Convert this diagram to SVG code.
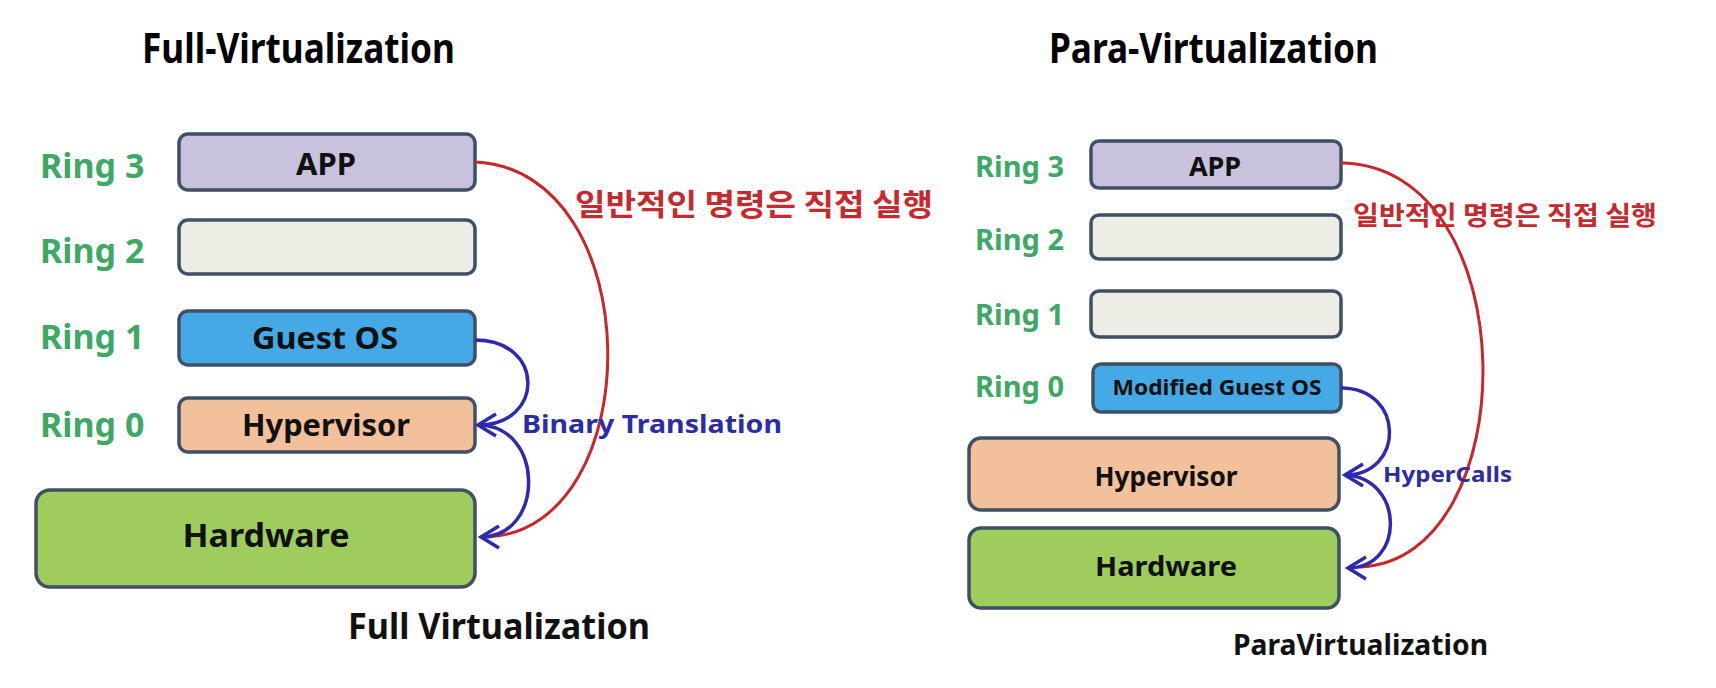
<svg xmlns="http://www.w3.org/2000/svg" width="1716" height="688" viewBox="0 0 1716 688">
<defs>
<style>
.title{font-family:"Noto Sans","Noto Sans CJK KR",sans-serif;font-weight:bold;font-size:42px;fill:#000}
.ring{font-family:"Noto Sans","Noto Sans CJK KR",sans-serif;font-weight:bold;fill:#3ea865}
.lbl{font-family:"Noto Sans","Noto Sans CJK KR",sans-serif;font-weight:bold;fill:#111;text-anchor:middle}
.box{stroke:#3f5066;stroke-width:3.5}
.kr{font-family:"Noto Sans CJK KR",sans-serif;font-weight:bold;fill:#c42a2e}
.bt{font-family:"Noto Sans","Noto Sans CJK KR",sans-serif;font-weight:bold;fill:#2d2ca3}
.cap{font-family:"Noto Sans","Noto Sans CJK KR",sans-serif;font-weight:bold;fill:#111}
.red{fill:none;stroke:#c8262b;stroke-width:3}
.blue{fill:none;stroke:#2e2ab0;stroke-width:3.5}
</style>
<marker id="chev" viewBox="0 0 24 26" refX="21" refY="13" markerWidth="24" markerHeight="26" markerUnits="userSpaceOnUse" orient="auto">
<path d="M3,2 L21,13 L3,24" fill="none" stroke="#2e2ab0" stroke-width="3.5" stroke-linejoin="miter"/>
</marker>
</defs>
<rect width="1716" height="688" fill="#fff"/>

<text class="title" x="142" y="63" textLength="313" lengthAdjust="spacingAndGlyphs">Full-Virtualization</text>
<text class="title" x="1049" y="63" textLength="329" lengthAdjust="spacingAndGlyphs">Para-Virtualization</text>

<g id="left-ring-labels" font-size="34">
<text class="ring" x="40" y="178">Ring 3</text>
<text class="ring" x="40" y="263">Ring 2</text>
<text class="ring" x="40" y="349">Ring 1</text>
<text class="ring" x="40" y="437">Ring 0</text>
</g>

<g id="fv-app"><rect class="box" x="179" y="134" width="296" height="56" rx="9" fill="#c9c2dd"/><text class="lbl" x="326" y="175" font-size="31">APP</text></g>
<g id="fv-ring2"><rect class="box" x="179" y="220" width="296" height="54" rx="9" fill="#eeede5"/></g>
<g id="fv-guestos"><rect class="box" x="179" y="311" width="296" height="54" rx="9" fill="#45a9e6"/><text class="lbl" x="325" y="349" font-size="31" textLength="146" lengthAdjust="spacingAndGlyphs">Guest OS</text></g>
<g id="fv-hypervisor"><rect class="box" x="179" y="398" width="296" height="54" rx="9" fill="#f2c09b"/><text class="lbl" x="326" y="436" font-size="31" textLength="168" lengthAdjust="spacingAndGlyphs">Hypervisor</text></g>
<g id="fv-hardware"><rect class="box" x="36" y="490" width="439" height="97" rx="14" fill="#9ecd5e"/><text class="lbl" x="266" y="547" font-size="33" textLength="167" lengthAdjust="spacingAndGlyphs">Hardware</text></g>
<text class="cap" x="348" y="639" font-size="35" textLength="302" lengthAdjust="spacingAndGlyphs">Full Virtualization</text>

<g id="right-ring-labels" font-size="29">
<text class="ring" x="975" y="177">Ring 3</text>
<text class="ring" x="975" y="250">Ring 2</text>
<text class="ring" x="975" y="325">Ring 1</text>
<text class="ring" x="975" y="397">Ring 0</text>
</g>

<g id="pv-app"><rect class="box" x="1091" y="141" width="250" height="47" rx="8" fill="#c9c2dd"/><text class="lbl" x="1215" y="176" font-size="27">APP</text></g>
<g id="pv-ring2"><rect class="box" x="1091" y="215" width="250" height="44" rx="8" fill="#eeede5"/></g>
<g id="pv-ring1"><rect class="box" x="1091" y="291" width="250" height="46" rx="8" fill="#eeede5"/></g>
<g id="pv-guestos"><rect class="box" x="1093" y="364" width="248" height="48" rx="8" fill="#45a9e6"/><text class="lbl" x="1217" y="395" font-size="22" textLength="209" lengthAdjust="spacingAndGlyphs">Modified Guest OS</text></g>
<g id="pv-hypervisor"><rect class="box" x="969" y="438" width="370" height="72" rx="12" fill="#f2c09b"/><text class="lbl" x="1166" y="486" font-size="27" textLength="143" lengthAdjust="spacingAndGlyphs">Hypervisor</text></g>
<g id="pv-hardware"><rect class="box" x="969" y="528" width="370" height="80" rx="12" fill="#9ecd5e"/><text class="lbl" x="1166" y="576" font-size="27" textLength="142" lengthAdjust="spacingAndGlyphs">Hardware</text></g>
<text class="cap" x="1233" y="655" font-size="29" textLength="255" lengthAdjust="spacingAndGlyphs">ParaVirtualization</text>

<g id="connectors">
<path class="red" d="M475,162 C650,170 650,530 487,537"/>
<path class="blue" d="M475,340 C545,340 545,425 478,425" marker-end="url(#chev)"/>
<path class="blue" d="M478,425 C545,425 545,537 481,537" marker-end="url(#chev)"/>
<path class="red" d="M1341,163 C1527,165 1527,560 1360,567"/>
<path class="blue" d="M1341,388 C1405,388 1405,475 1345,475" marker-end="url(#chev)"/>
<path class="blue" d="M1345,475 C1405,478 1405,568 1348,568" marker-end="url(#chev)"/>
</g>

<text class="kr" x="575" y="215" font-size="30" textLength="358" lengthAdjust="spacingAndGlyphs">일반적인 명령은 직접 실행</text>
<text class="bt" x="522" y="433" font-size="25" textLength="260" lengthAdjust="spacingAndGlyphs">Binary Translation</text>
<text class="kr" x="1353" y="225" font-size="26" textLength="304" lengthAdjust="spacingAndGlyphs">일반적인 명령은 직접 실행</text>
<text class="bt" x="1383" y="482" font-size="22" textLength="129" lengthAdjust="spacingAndGlyphs">HyperCalls</text>
</svg>
